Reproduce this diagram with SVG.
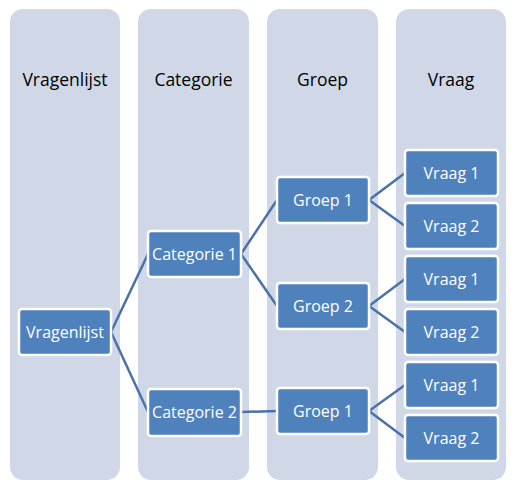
<svg xmlns="http://www.w3.org/2000/svg" width="516" height="489" viewBox="0 0 516 489">
<style>
.col{fill:#D0D8E8}
.hd{font-family:"Open Sans","Liberation Sans",sans-serif;font-size:17.5px;fill:#000;text-anchor:middle}
.nd rect{fill:#4F81BD;stroke:#FFFFFF;stroke-width:2.5}
.nd text{font-family:"Open Sans","Liberation Sans",sans-serif;font-size:16px;fill:#FFFFFF;text-anchor:middle}
.cn line{stroke:#4A71A8;stroke-width:2.5;fill:none}
</style>
<rect width="516" height="489" fill="#FFFFFF"/>
<g id="columns">
<rect class="col" x="10" y="9" width="110" height="471" rx="13"/>
<rect class="col" x="138" y="9" width="111" height="471" rx="13"/>
<rect class="col" x="267" y="9" width="111" height="471" rx="13"/>
<rect class="col" x="396" y="9" width="110" height="471" rx="13"/>
<text class="hd" x="65" y="86">Vragenlijst</text>
<text class="hd" x="193.5" y="86">Categorie</text>
<text class="hd" x="322.5" y="86">Groep</text>
<text class="hd" x="451" y="86">Vraag</text>
</g>
<g id="connectors" class="cn">
<line x1="111" y1="332" x2="148" y2="254"/>
<line x1="111" y1="332" x2="148" y2="412"/>
<line x1="241" y1="254" x2="277" y2="200"/>
<line x1="241" y1="254" x2="277" y2="306"/>
<line x1="241" y1="412" x2="277" y2="411"/>
<line x1="369" y1="200" x2="405" y2="173"/>
<line x1="369" y1="200" x2="405" y2="226"/>
<line x1="369" y1="306" x2="405" y2="279"/>
<line x1="369" y1="306" x2="405" y2="332"/>
<line x1="369" y1="411" x2="405" y2="385"/>
<line x1="369" y1="411" x2="405" y2="438"/>
</g>
<g id="n-vragenlijst" class="nd"><rect x="19" y="309" width="92" height="46" rx="3"/><text x="65" y="337.5">Vragenlijst</text></g>
<g id="n-cat1" class="nd"><rect x="148" y="231" width="93" height="46" rx="3"/><text x="194.5" y="259.5">Categorie 1</text></g>
<g id="n-cat2" class="nd"><rect x="148" y="389" width="93" height="47" rx="3"/><text x="194.5" y="418">Categorie 2</text></g>
<g id="n-groep1a" class="nd"><rect x="277" y="177" width="92" height="46" rx="3"/><text x="323" y="205.5">Groep 1</text></g>
<g id="n-groep2" class="nd"><rect x="277" y="283" width="92" height="46" rx="3"/><text x="323" y="311.5">Groep 2</text></g>
<g id="n-groep1b" class="nd"><rect x="277" y="388" width="92" height="46" rx="3"/><text x="323" y="416.5">Groep 1</text></g>
<g id="n-vraag1a" class="nd"><rect x="405" y="150" width="93" height="46" rx="3"/><text x="451.5" y="178.5">Vraag 1</text></g>
<g id="n-vraag2a" class="nd"><rect x="405" y="203" width="93" height="46" rx="3"/><text x="451.5" y="231.5">Vraag 2</text></g>
<g id="n-vraag1b" class="nd"><rect x="405" y="256" width="93" height="46" rx="3"/><text x="451.5" y="284.5">Vraag 1</text></g>
<g id="n-vraag2b" class="nd"><rect x="405" y="309" width="93" height="46" rx="3"/><text x="451.5" y="337.5">Vraag 2</text></g>
<g id="n-vraag1c" class="nd"><rect x="405" y="362" width="93" height="46" rx="3"/><text x="451.5" y="390.5">Vraag 1</text></g>
<g id="n-vraag2c" class="nd"><rect x="405" y="415" width="93" height="46" rx="3"/><text x="451.5" y="443.5">Vraag 2</text></g>
</svg>
